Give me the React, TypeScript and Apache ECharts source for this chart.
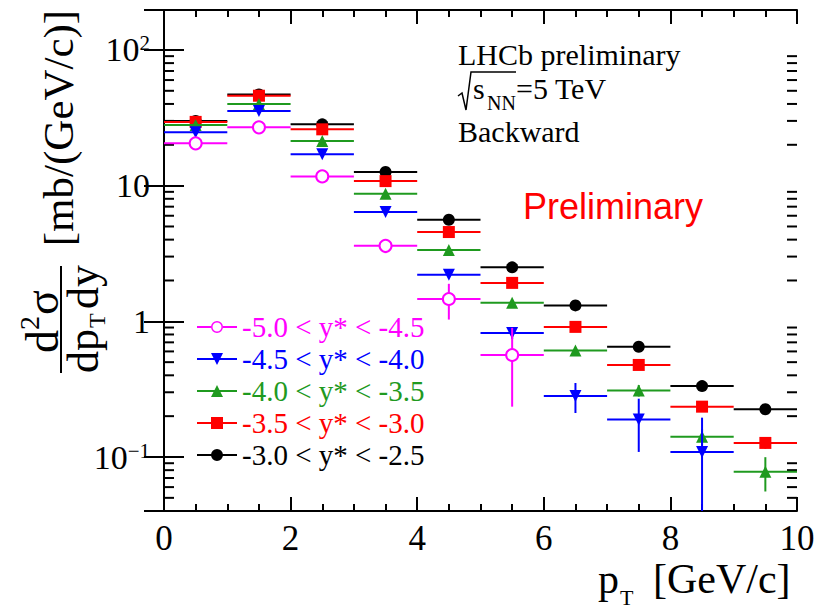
import React, { useEffect, useRef } from "react";
import * as echarts from "echarts";

// ---------- data ----------
const ptCenters = [0.5, 1.5, 2.5, 3.5, 4.5, 5.5, 6.5, 7.5, 8.5, 9.5];
const BIN_HALF_WIDTH = 0.5;

const nameM = "-5.0 < y* < -4.5";
const nameB = "-4.5 < y* < -4.0";
const nameG = "-4.0 < y* < -3.5";
const nameR = "-3.5 < y* < -3.0";
const nameK = "-3.0 < y* < -2.5";

const magentaValues = [20.5, 26.9, 11.7, 3.6, 1.46, 0.565];
const magentaErrors = [0.8, 0.6, 0.3, 0.42, 0.43, 0.33];
const blueValues = [24.7, 35.5, 17.0, 6.4, 2.2, 0.82, 0.281, 0.189, 0.109];
const blueErrors = [0.7, 1.0, 0.4, 0.25, 0.12, 0.08, 0.07, 0.08, 0.086];
const greenValues = [28.0, 40.0, 21.3, 8.7, 3.35, 1.37, 0.61, 0.309, 0.141, 0.0777];
const greenErrors = [0.8, 1.2, 0.6, 0.3, 0.12, 0.06, 0.03, 0.03, 0.02, 0.022];
const redValues = [29.5, 46.0, 26.0, 10.8, 4.55, 1.92, 0.91, 0.477, 0.235, 0.127];
const redErrors = [0.8, 1.5, 0.7, 0.35, 0.15, 0.06, 0.03, 0.02, 0.015, 0.012];
const blackValues = [30.0, 47.0, 28.3, 12.6, 5.6, 2.5, 1.31, 0.65, 0.333, 0.225];
const blackErrors = [2.5, 4.0, 0.8, 0.3, 0.1, 0.05, 0.03, 0.015, 0.012, 0.008];

const yMinorTicks = [
  0.05, 0.06, 0.07, 0.08, 0.09,
  0.2, 0.3, 0.4, 0.5, 0.6, 0.7, 0.8, 0.9,
  2, 3, 4, 5, 6, 7, 8, 9,
  20, 30, 40, 50, 60, 70, 80, 90,
];

const X_MIN = 0;
const X_MAX = 10;
const X_INTERVAL = 2;
const Y_MIN = 0.04;
const Y_MAX = 197;

// ---------- styles ----------
const SERIF = "Liberation Serif";
const SANS = "Liberation Sans";
const C_M = "#ff00ff";
const C_B = "#0000ff";
const C_G = "#1f9a1f";
const C_R = "#ff0000";
const C_K = "#000000";

const ICON_LINE = "M0,5 L40,5 L40,7 L0,7 Z";
const ICON_EMPTY_CIRCLE =
  "M0,5 L14,5 L14,7 L0,7 Z M26,5 L40,5 L40,7 L26,7 Z M14,6 A6,6 0 1,1 26,6 A6,6 0 1,1 14,6 Z M15.5,6 A4.5,4.5 0 1,0 24.5,6 A4.5,4.5 0 1,0 15.5,6 Z";
const ICON_TRI_DOWN = ICON_LINE + " M14,0 L26,0 L20,12 Z";
const ICON_TRI_UP = ICON_LINE + " M20,0 L26,12 L14,12 Z";
const ICON_SQUARE = ICON_LINE + " M14,0 L26,0 L26,12 L14,12 Z";
const ICON_CIRCLE = ICON_LINE + " M14,6 A6,6 0 1,1 26,6 A6,6 0 1,1 14,6 Z";

function errSeries(name: string, color: string, values: number[], errors: number[], z: number) {
  return {
    type: "custom",
    name: name + " err",
    silent: true,
    clip: true,
    z,
    encode: { x: 0, y: 1 },
    data: values.map((v, i) => [ptCenters[i], v, errors[i]]),
    renderItem: (_p: any, api: any) => {
      const x = api.value(0);
      const y = api.value(1);
      const e = api.value(2);
      const l = api.coord([x - BIN_HALF_WIDTH, y]);
      const r = api.coord([x + BIN_HALF_WIDTH, y]);
      const t = api.coord([x, y + e]);
      const b = api.coord([x, Math.max(y - e, Y_MIN * 0.3)]);
      return {
        type: "group",
        children: [
          { type: "line", shape: { x1: l[0], y1: l[1], x2: r[0], y2: r[1] }, style: { stroke: color, lineWidth: 2 } },
          { type: "line", shape: { x1: t[0], y1: t[1], x2: b[0], y2: b[1] }, style: { stroke: color, lineWidth: 2 } },
        ],
      };
    },
  };
}

function markSeries(name: string, color: string, values: number[], symbol: string, size: number, rotate: number, z: number) {
  return {
    type: "scatter",
    name,
    silent: true,
    z,
    symbol,
    symbolSize: size,
    symbolRotate: rotate,
    itemStyle: { color, borderColor: color, borderWidth: symbol === "emptyCircle" ? 2 : 0, opacity: 1 },
    data: values.map((v, i) => [ptCenters[i], v]),
  };
}

function yLabel(v: number) {
  const e = Math.log10(v);
  const r = Math.round(e);
  if (Math.abs(e - r) > 1e-6) return "";
  if (r === 0) return "{b|1}";
  if (r === 1) return "{b|10}";
  return "{b|10}{s|" + (r < 0 ? "\u2212" : "") + Math.abs(r) + "}";
}

function txt(text: string, x: number, y: number, size: number, family: string, color = "#000", align = "left") {
  return {
    type: "text",
    silent: true,
    style: {
      text,
      x,
      y,
      font: `${size}px ${family}`,
      fill: color,
      textAlign: align,
      align,
      textVerticalAlign: "middle",
      verticalAlign: "middle",
    },
  };
}

export default function App() {
  const ref = useRef<HTMLDivElement>(null);
  useEffect(() => {
    if (!ref.current) return;
    const chart = echarts.init(ref.current, null, { renderer: "svg" });
    const frame = { show: true, lineStyle: { color: "#000", width: 2 } };
    const option: any = {
      animation: false,
      backgroundColor: "#fff",
      textStyle: { fontFamily: SERIF },
      grid: { left: 164, right: 24, top: 10, bottom: 99, containLabel: false },
      xAxis: [
        {
          type: "value",
          min: X_MIN,
          max: X_MAX,
          interval: X_INTERVAL,
          axisLine: frame,
          axisTick: { show: true, inside: true, length: 14, lineStyle: { color: "#000", width: 2 } },
          minorTick: { show: true, splitNumber: 4, length: 7, lineStyle: { color: "#000", width: 2 } },
          splitLine: { show: false },
          axisLabel: { fontFamily: SERIF, fontSize: 35, lineHeight: 26, color: "#000", margin: 14 },
        },
        {
          type: "value",
          position: "top",
          min: X_MIN,
          max: X_MAX,
          interval: X_INTERVAL,
          axisLine: frame,
          axisTick: { show: true, inside: true, length: 14, lineStyle: { color: "#000", width: 2 } },
          minorTick: { show: true, splitNumber: 4, length: 7, lineStyle: { color: "#000", width: 2 } },
          splitLine: { show: false },
          axisLabel: { show: false },
        },
      ],
      yAxis: [
        {
          type: "log",
          logBase: 10,
          min: Y_MIN,
          max: Y_MAX,
          axisLine: frame,
          axisTick: { show: true, inside: true, length: 20, lineStyle: { color: "#000", width: 2 } },
          splitLine: { show: false },
          axisLabel: {
            showMinLabel: false,
            showMaxLabel: false,
            margin: 14,
            fontFamily: SERIF,
            formatter: yLabel,
            rich: {
              b: { fontFamily: SERIF, fontSize: 34, color: "#000" },
              s: { fontFamily: SERIF, fontSize: 21, color: "#000", verticalAlign: "top" },
            },
          },
        },
        {
          type: "log",
          logBase: 10,
          position: "right",
          min: Y_MIN,
          max: Y_MAX,
          axisLine: frame,
          axisTick: { show: true, inside: true, length: 20, lineStyle: { color: "#000", width: 2 } },
          splitLine: { show: false },
          axisLabel: { show: false },
        },
      ],
      legend: {
        orient: "vertical",
        left: 197,
        top: 311,
        padding: 0,
        itemWidth: 40,
        itemHeight: 12,
        itemGap: 0,
        selectedMode: false,
        itemStyle: { borderWidth: 0 },
        textStyle: { fontFamily: SERIF, fontSize: 29, lineHeight: 32 },
        data: [
          { name: nameM, icon: "path://" + ICON_EMPTY_CIRCLE, textStyle: { color: C_M, fontFamily: SERIF } },
          { name: nameB, icon: "path://" + ICON_TRI_DOWN, textStyle: { color: C_B, fontFamily: SERIF } },
          { name: nameG, icon: "path://" + ICON_TRI_UP, textStyle: { color: C_G, fontFamily: SERIF } },
          { name: nameR, icon: "path://" + ICON_SQUARE, textStyle: { color: C_R, fontFamily: SERIF } },
          { name: nameK, icon: "path://" + ICON_CIRCLE, textStyle: { color: C_K, fontFamily: SERIF } },
        ],
      },
      series: [
        {
          type: "custom",
          name: "y minor ticks",
          silent: true,
          z: 1,
          encode: { x: 0, y: 1 },
          data: yMinorTicks.map((v) => [X_MIN, v]),
          renderItem: (_p: any, api: any) => {
            const v = api.value(1);
            const a = api.coord([X_MIN, v]);
            const b = api.coord([X_MAX, v]);
            return {
              type: "group",
              children: [
                { type: "line", shape: { x1: a[0], y1: a[1], x2: a[0] + 10, y2: a[1] }, style: { stroke: "#000", lineWidth: 2 } },
                { type: "line", shape: { x1: b[0] - 10, y1: b[1], x2: b[0], y2: b[1] }, style: { stroke: "#000", lineWidth: 2 } },
              ],
            };
          },
        },
        errSeries(nameK, C_K, blackValues, blackErrors, 2),
        markSeries(nameK, C_K, blackValues, "circle", 12, 0, 3),
        errSeries(nameR, C_R, redValues, redErrors, 4),
        markSeries(nameR, C_R, redValues, "rect", 12, 0, 5),
        errSeries(nameG, C_G, greenValues, greenErrors, 6),
        markSeries(nameG, C_G, greenValues, "triangle", 12, 0, 7),
        errSeries(nameB, C_B, blueValues, blueErrors, 8),
        markSeries(nameB, C_B, blueValues, "triangle", 12, 180, 9),
        errSeries(nameM, C_M, magentaValues, magentaErrors, 10),
        markSeries(nameM, C_M, magentaValues, "emptyCircle", 12, 0, 11),
      ],
      graphic: [
        txt("LHCb preliminary", 458, 54, 30, SERIF),
        {
          type: "polyline",
          silent: true,
          shape: { points: [[458, 96], [462, 93], [466, 110], [471, 72], [516, 72]] },
          style: { stroke: "#000", lineWidth: 1.5, fill: null },
        },
        txt("s", 473, 88, 30, SERIF),
        txt("NN", 487, 103, 20, SERIF),
        txt("=5 TeV", 516, 88, 30, SERIF),
        txt("Backward", 458, 131, 30, SERIF),
        txt("Preliminary", 523, 206, 36, SANS, C_R),
        // x axis title
        txt("p", 598, 579, 42, SERIF),
        txt("T", 620, 597, 22, SERIF),
        txt("[GeV/c]", 653, 579, 42, SERIF),
        // y axis title (rotated)
        {
          type: "group",
          x: 61,
          y: 373,
          rotation: Math.PI / 2,
          silent: true,
          children: [
            { type: "line", shape: { x1: 0, y1: 0, x2: 107, y2: 0 }, style: { stroke: "#000", lineWidth: 2 } },
            txt("d", 20, -19, 46, SERIF),
            txt("2", 43, -32, 28, SERIF),
            txt("\u03c3", 58, -19, 46, SERIF),
            txt("dp", 0, 22, 44, SERIF),
            txt("T", 45, 36, 24, SERIF),
            txt("dy", 64, 22, 44, SERIF),
            txt("[mb/(GeV/c)]", 245, -3, 43, SERIF, "#000", "center"),
          ],
        },
      ],
    };
    chart.setOption(option);
    return () => chart.dispose();
  }, []);
  return <div ref={ref} style={{ width: 821, height: 610, position: "absolute", left: 0, top: 0 }} />;
}
